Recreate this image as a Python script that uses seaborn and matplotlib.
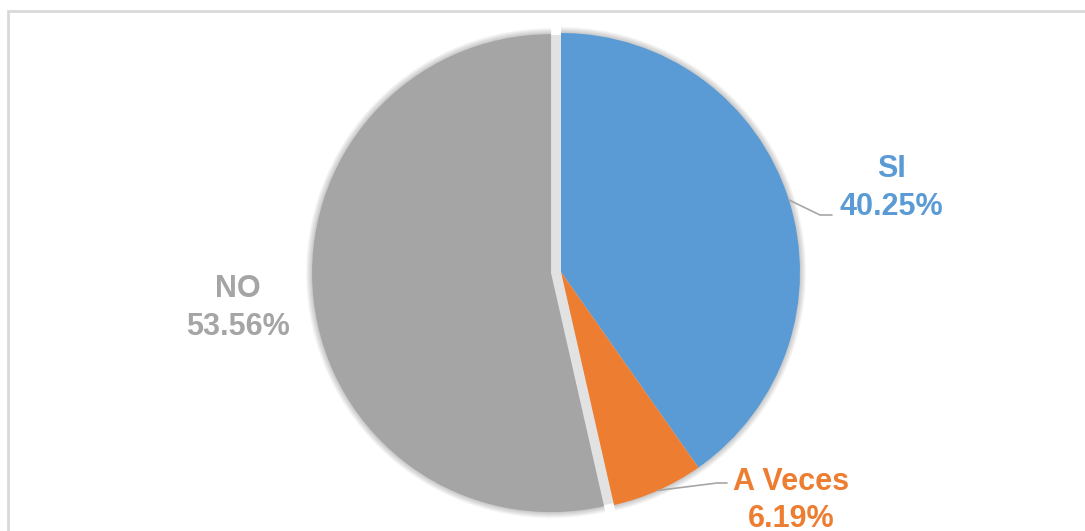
import numpy as np
import matplotlib
matplotlib.use('Agg')
import matplotlib.pyplot as plt
from matplotlib.patches import Rectangle
import seaborn as sns

labels = ['SI', 'A Veces', 'NO']
values = [40.25, 6.19, 53.56]
colors = ['#5B9BD5', '#ED7D31', '#A5A5A5']
explode = [0, 0, 10]  # pixels, the NO slice is pulled out a bit

sns.set_style('white')
plt.rcParams['font.family'] = ['Liberation Sans', 'DejaVu Sans']

fig = plt.figure(figsize=(10.85, 5.31), dpi=100)
ax = fig.add_axes([0, 0, 1, 1])

center = (561, 259)
radius = 239

# soft outer shadow
for k in range(1, 7):
    ax.pie(values, radius=radius + k, center=center, startangle=90, counterclock=False,
           explode=explode, colors=['black'] * 3, frame=True,
           wedgeprops=dict(alpha=0.035, linewidth=0))
# shadow seen through the gap of the pulled-out slice
ax.pie(values, radius=radius - 2, center=center, startangle=90, counterclock=False,
       colors=['#E2E2E2'] * 3, frame=True, wedgeprops=dict(linewidth=0))

wedges, _ = ax.pie(values, radius=radius, center=center, startangle=90, counterclock=False,
                   explode=explode, colors=colors, frame=True,
                   wedgeprops=dict(linewidth=0))
ax.set_xlim(0, 1085)
ax.set_ylim(0, 531)
ax.set_aspect('equal')
ax.axis('off')

# label text positions (x center, name baseline, pct baseline) in pixel space
label_pos = {
    'SI': (891, 354, 316),
    'A Veces': (791, 41, 4),
    'NO': (238, 234, 196),
}
leader = {
    'SI': [(820, 316), (832, 316)],
    'A Veces': [(717, 48), (727, 48)],
}

cum = 0
for lab, val, col in zip(labels, values, colors):
    mid = (cum + val / 2) / 100 * 2 * np.pi
    cum += val
    x, y1, y2 = label_pos[lab]
    ax.text(x, y1, lab, color=col, fontsize=22, fontweight='bold', ha='center', va='baseline')
    ax.text(x, y2, f'{val:.2f}%', color=col, fontsize=22, fontweight='bold', ha='center', va='baseline')
    if lab in leader:
        ex = center[0] + radius * np.sin(mid)
        ey = center[1] + radius * np.cos(mid)
        pts = [(ex, ey)] + leader[lab]
        ax.plot([p[0] for p in pts], [p[1] for p in pts], color='#A6A6A6', lw=1.2, zorder=5)

# chart area border (cropped at right/bottom)
fig.patches.append(Rectangle((8, -20), 1100, 540, transform=None, fill=False,
                             edgecolor='#D9D9D9', linewidth=2))

fig.savefig('out.png', dpi=100)
